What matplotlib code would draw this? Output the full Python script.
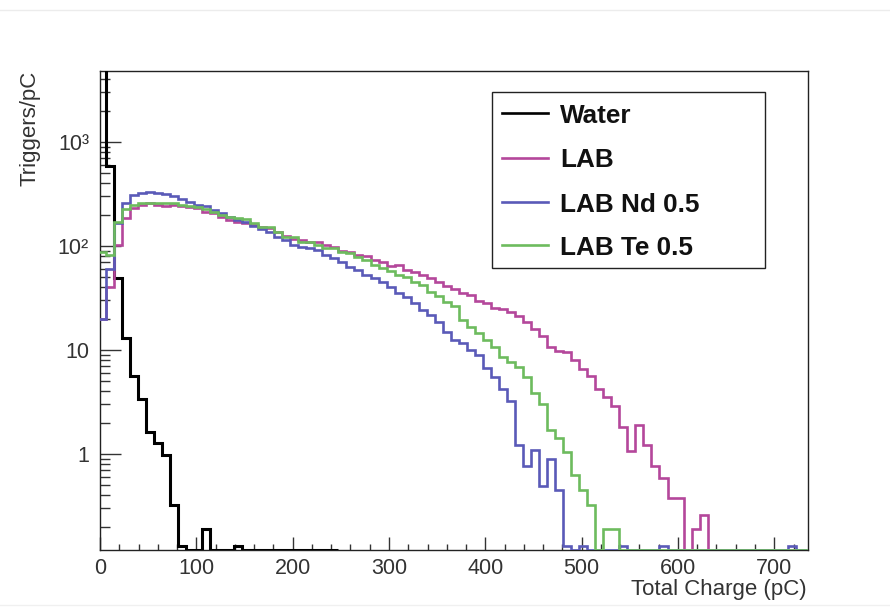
import numpy as np
import matplotlib
matplotlib.use('Agg')
import matplotlib.pyplot as plt
from matplotlib.lines import Line2D
from matplotlib.patches import Rectangle
from matplotlib.ticker import FixedLocator, FixedFormatter, MultipleLocator, LogLocator, NullFormatter

plt.rcParams['font.family'] = ['Liberation Sans', 'DejaVu Sans']

# ---------------- data ----------------
bin_low = -2.5
bin_width = 25.0 / 3.0

water = [6000, 590, 49, 12.9, 5.6, 3.4, 1.64, 1.28, 0.98, 0.32,
         0.13, 0, 0, 0.19, 0, 0, 0, 0.13, 0, 0,
         0, 0, 0, 0, 0, 0, 0, 0, 0, 0]

lab = [20, 40, 102, 185, 230, 250, 260, 250, 243, 250,
       240, 236, 230, 213, 206, 191, 178, 171, 168, 160,
       153, 150, 137, 125, 117, 114, 110, 108, 102, 98,
       90, 88, 82, 80, 74, 70, 64, 66, 59, 56,
       53, 49, 45, 41, 38.5, 35, 34, 29.5, 28.5, 25.5,
       24.5, 23, 21, 18.7, 15.8, 13.7, 10.7, 9.8, 9.6, 8.0,
       6.5, 5.6, 4.2, 3.55, 2.9, 1.8, 1.07, 1.9, 1.22, 0.77,
       0.58, 0.375, 0.375, 0, 0.19, 0.26, 0, 0, 0, 0,
       0, 0, 0, 0, 0, 0, 0, 0, 0, 0]

lab_nd = [20, 60, 165, 257, 310, 325, 332, 322, 315, 302,
          281, 266, 250, 240, 220, 206, 191, 178, 171, 155,
          145, 137, 122, 114, 102, 98, 95, 91, 82, 76,
          70.5, 63, 59, 52.5, 49, 45, 40, 35.5, 32, 28,
          24, 21.7, 18.7, 15, 12.5, 11.6, 10, 8.9, 6.7, 5.5,
          4.2, 3.2, 1.22, 0.77, 1.08, 0.49, 0.89, 0.45, 0.13, 0,
          0.13, 0, 0, 0, 0, 0.13, 0, 0, 0, 0,
          0.13, 0, 0, 0, 0, 0, 0, 0, 0, 0,
          0, 0, 0, 0, 0, 0, 0.13, 0, 0, 0]

lab_te = [88, 82, 171, 225, 250, 257, 257, 260, 257, 257,
          250, 243, 236, 225, 213, 199, 191, 184, 180, 166,
          153, 153, 137, 122, 122, 110, 110, 102, 95, 95,
          88, 85, 79, 73, 65, 61, 57, 53, 50.6, 45.5,
          42, 36, 33, 29, 26.5, 19.5, 16.7, 14.5, 12.5, 10.7,
          8.6, 7.7, 6.9, 5.5, 3.83, 3.0, 1.7, 1.41, 1.05, 0.63,
          0.45, 0.32, 0, 0.19, 0.19, 0, 0, 0, 0, 0,
          0, 0, 0, 0, 0, 0, 0, 0, 0, 0,
          0, 0, 0, 0, 0, 0, 0, 0, 0, 0]

series_names = ['Water', 'LAB', 'LAB Nd 0.5', 'LAB Te 0.5']
series_values = [water, lab, lab_nd, lab_te]
series_colors = ['#000000', '#b4479b', '#5a5ab8', '#6dbb5e']
series_widths = [2.2, 1.9, 1.9, 1.9]

x_ticks = [0, 100, 200, 300, 400, 500, 600, 700]
y_ticks = [1, 10, 100, 1000]
y_tick_labels = ['1', '10', '10\u00b2', '10\u00b3']
x_label = 'Total Charge (pC)'
y_label = 'Triggers/pC'
xlim = (0, 735)
ylim = (0.119, 4850)

# ---------------- figure ----------------
W, H = 890, 611
fig = plt.figure(figsize=(W / 100, H / 100), dpi=100)
ax_l, ax_r, ax_t, ax_b = 100, 808, 70.7, 550
ax = fig.add_axes([ax_l / W, 1 - ax_b / H, (ax_r - ax_l) / W, (ax_b - ax_t) / H])
ax.set_yscale('log')

for vals, col, lw in zip(series_values, series_colors, series_widths):
    v = np.asarray(vals, dtype=float)
    edges = bin_low + bin_width * np.arange(len(v) + 1)
    vplot = np.where(v > 0, v, ylim[0])
    ax.stairs(vplot, edges, baseline=ylim[0], color=col, lw=lw, zorder=3,
              joinstyle='miter')

ax.set_xlim(*xlim)
ax.set_ylim(*ylim)

ax.xaxis.set_major_locator(FixedLocator(x_ticks))
ax.xaxis.set_minor_locator(MultipleLocator(20))
ax.yaxis.set_major_locator(FixedLocator(y_ticks))
ax.yaxis.set_major_formatter(FixedFormatter(y_tick_labels))
ax.yaxis.set_minor_locator(LogLocator(base=10, subs=np.arange(2, 10), numticks=20))
ax.yaxis.set_minor_formatter(NullFormatter())

ax.tick_params(which='both', direction='in', top=False, right=False,
               colors='#333333', labelcolor='#333333', width=1.0)
ax.tick_params(axis='x', which='major', length=9.4, pad=5.5, labelsize=15.5)
ax.tick_params(axis='x', which='minor', length=4.5)
ax.tick_params(axis='y', which='major', length=15, pad=8, labelsize=15.5)
ax.tick_params(axis='y', which='minor', length=7.2)
for s in ax.spines.values():
    s.set_linewidth(1.0)
    s.set_color('#222222')

fig.text(807 / W, 1 - 589 / H, x_label, ha='right', va='center',
         fontsize=16, color='#333333')
fig.text(30 / W, 1 - 71 / H, y_label, ha='center', va='top', rotation=90,
         fontsize=16, color='#333333')

# legend box
lx0, lx1, ly0, ly1 = 491.7, 765, 91.7, 268.3
fig.add_artist(Rectangle((lx0 / W, 1 - ly1 / H), (lx1 - lx0) / W, (ly1 - ly0) / H,
                         transform=fig.transFigure, fill=True, facecolor='white',
                         edgecolor='#222222', lw=1.0, zorder=5))
rows = [113.3, 157.5, 201.5, 245]
for name, col, y in zip(series_names, series_colors, rows):
    fig.add_artist(Line2D([501.7 / W, 548.3 / W], [1 - y / H, 1 - y / H],
                          transform=fig.transFigure, color=col, lw=1.9, zorder=6))
    fig.text(560 / W, 1 - (y + 10) / H, name, ha='left', va='baseline',
             fontsize=18.8, fontweight='bold', color='#111111', zorder=6)

# faint screenshot borders
fig.add_artist(Line2D([0, 1], [1 - 10 / H, 1 - 10 / H], transform=fig.transFigure,
                      color='#ececec', lw=1.0))
fig.add_artist(Line2D([0, 1], [1 - 605 / H, 1 - 605 / H], transform=fig.transFigure,
                      color='#f0f0f0', lw=1.0))

fig.savefig('out.png', dpi=100)
